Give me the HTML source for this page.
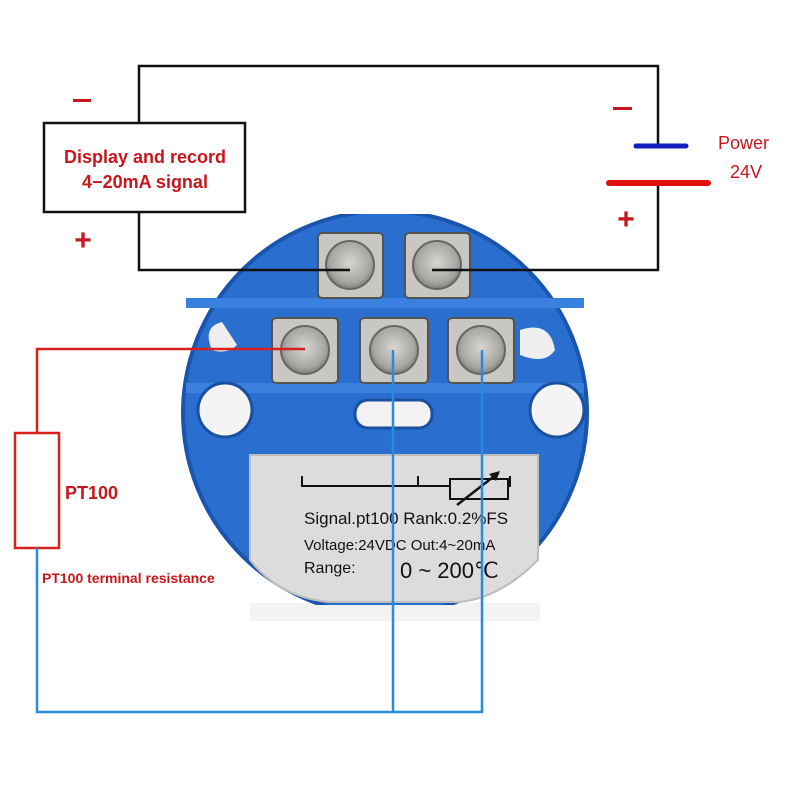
<!DOCTYPE html>
<html><head><meta charset="utf-8"><style>
html,body{margin:0;padding:0;background:#fff}
svg{display:block}
text{font-family:"Liberation Sans",sans-serif}
</style></head><body>
<svg width="800" height="800" viewBox="0 0 800 800" xmlns="http://www.w3.org/2000/svg">
<defs>
<radialGradient id="sc" cx="50%" cy="45%" r="60%">
<stop offset="0" stop-color="#d8d6d2"/><stop offset="0.7" stop-color="#a8a6a2"/><stop offset="1" stop-color="#6e6c6a"/>
</radialGradient>
<clipPath id="dc"><rect x="170" y="214" width="440" height="391"/></clipPath>
</defs>
<rect x="250" y="603" width="290" height="18" fill="#f3f3f3"/>
<g clip-path="url(#dc)">
<circle cx="385" cy="413" r="202" fill="#2a6ecf"/>
<circle cx="385" cy="413" r="202" fill="none" stroke="#1a55ad" stroke-width="4"/>
</g>
<rect x="186" y="298" width="398" height="10" fill="#3a80de"/>
<rect x="186" y="383" width="398" height="10" fill="#3a80de"/>
<ellipse cx="225" cy="410" rx="27" ry="27" fill="#f4f4f4" stroke="#1a50a0" stroke-width="3"/>
<ellipse cx="557" cy="410" rx="27" ry="27" fill="#f4f4f4" stroke="#1a50a0" stroke-width="3"/>
<rect x="355" y="400" width="77" height="28" rx="13" fill="#f2f2f2" stroke="#1a50a0" stroke-width="3"/>
<path d="M222 322 q-20 5 -10 28 q15 5 25 -5 z" fill="#eee"/>
<path d="M520 330 q30 -10 35 20 q-10 15 -35 5 z" fill="#eee"/>
<g>
<rect x="318" y="233" width="65" height="65" rx="4" fill="#c9c7c3" stroke="#55534f" stroke-width="2"/>
<circle cx="350" cy="265" r="24" fill="url(#sc)" stroke="#666" stroke-width="2"/>
<rect x="405" y="233" width="65" height="65" rx="4" fill="#c9c7c3" stroke="#55534f" stroke-width="2"/>
<circle cx="437" cy="265" r="24" fill="url(#sc)" stroke="#666" stroke-width="2"/>
<rect x="272" y="318" width="66" height="65" rx="4" fill="#c9c7c3" stroke="#55534f" stroke-width="2"/>
<circle cx="305" cy="350" r="24" fill="url(#sc)" stroke="#666" stroke-width="2"/>
<rect x="360" y="318" width="68" height="65" rx="4" fill="#c9c7c3" stroke="#55534f" stroke-width="2"/>
<circle cx="394" cy="350" r="24" fill="url(#sc)" stroke="#666" stroke-width="2"/>
<rect x="448" y="318" width="66" height="65" rx="4" fill="#c9c7c3" stroke="#55534f" stroke-width="2"/>
<circle cx="481" cy="350" r="24" fill="url(#sc)" stroke="#666" stroke-width="2"/>
</g>
<path d="M250 455 L538 455 L538 560 Q500 598 460 602 L330 602 Q280 598 250 560 Z" fill="#dcdcdc" stroke="#bdbdbd" stroke-width="2"/>
<path d="M302 476 V486 H510 V476 M418 476 V486" fill="none" stroke="#111" stroke-width="2"/>
<rect x="450" y="479" width="58" height="20" fill="#dcdcdc" stroke="#111" stroke-width="2"/>
<path d="M457 505 L497 474" stroke="#111" stroke-width="2.5"/>
<path d="M500 471 L489 474 L496 481 Z" fill="#111"/>
<text x="304" y="524" font-size="17" fill="#111">Signal.pt100 Rank:0.2%FS</text>
<text x="304" y="550" font-size="15" fill="#111">Voltage:24VDC Out:4~20mA</text>
<text x="304" y="573" font-size="16" fill="#111">Range:</text>
<text x="400" y="578" font-size="22" fill="#111">0 ~ 200℃</text>
<path d="M139 123 V66 H658 V146 M658 182 V270 H432 M139 212 V270 H350" fill="none" stroke="#111" stroke-width="2.5"/>
<rect x="44" y="123" width="201" height="89" fill="#fff" stroke="#111" stroke-width="2.5"/>
<text x="145" y="163" font-size="18" font-weight="bold" fill="#c8161d" text-anchor="middle">Display and record</text>
<text x="145" y="188" font-size="18" font-weight="bold" fill="#c8161d" text-anchor="middle">4−20mA signal</text>
<rect x="73" y="99" width="18" height="3" fill="#c8161d"/>
<text x="83" y="250" font-size="30" font-weight="bold" fill="#c8161d" text-anchor="middle">+</text>
<rect x="613" y="107" width="19" height="3" fill="#c8161d"/>
<text x="626" y="229" font-size="30" font-weight="bold" fill="#c8161d" text-anchor="middle">+</text>
<line x1="636" y1="146" x2="686" y2="146" stroke="#1020c0" stroke-width="5" stroke-linecap="round"/>
<line x1="609" y1="183" x2="708" y2="183" stroke="#e01010" stroke-width="6" stroke-linecap="round"/>
<text x="718" y="149" font-size="18" fill="#c8161d">Power</text>
<text x="730" y="178" font-size="18" fill="#c8161d">24V</text>
<path d="M305 349 H37 V433" fill="none" stroke="#d8201c" stroke-width="2.5"/>
<rect x="15" y="433" width="44" height="115" fill="#fff" stroke="#d8201c" stroke-width="2.5"/>
<path d="M37 548 V712 H482 V350 M393 350 V712" fill="none" stroke="#2a8ae0" stroke-width="2.5"/>
<text x="65" y="499" font-size="18" font-weight="bold" fill="#c8161d">PT100</text>
<text x="42" y="583" font-size="14" font-weight="bold" fill="#c8161d">PT100 terminal resistance</text>
</svg>
</body></html>
